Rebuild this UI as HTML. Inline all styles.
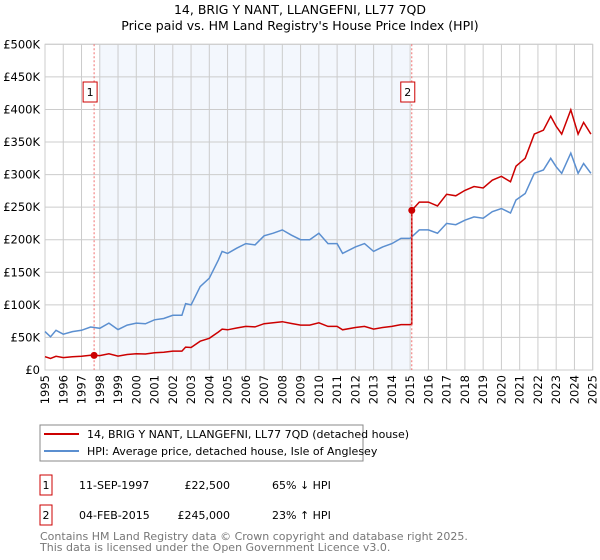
<!DOCTYPE html>
<html><head><meta charset="utf-8">
<style>
body{margin:0;background:#fff;width:600px;height:560px;overflow:hidden;font-family:"DejaVu Sans","Liberation Sans",sans-serif;}
svg{position:absolute;left:0;top:0}
</style></head>
<body>
<svg id="chart" width="600" height="560" xmlns="http://www.w3.org/2000/svg">
<text x="300" y="14" text-anchor="middle" font-size="12.5">14, BRIG Y NANT, LLANGEFNI, LL77 7QD</text>
<text x="300" y="30" text-anchor="middle" font-size="12.5">Price paid vs. HM Land Registry's House Price Index (HPI)</text>
<g id="grid"></g><g id="marks"></g><g id="axes"></g>
<rect x="40" y="425" width="323" height="36" fill="#fff" stroke="#888"/>
<line x1="44" y1="434" x2="79" y2="434" stroke="#cc0000" stroke-width="2"/>
<text x="87" y="438" font-size="11">14, BRIG Y NANT, LLANGEFNI, LL77 7QD (detached house)</text>
<line x1="44" y1="451" x2="79" y2="451" stroke="#5b8fd0" stroke-width="2"/>
<text x="87" y="455" font-size="11">HPI: Average price, detached house, Isle of Anglesey</text>
<g font-size="11">
<rect x="40" y="475" width="12" height="20" fill="#fff" stroke="#cc0000"/>
<text x="46" y="489" text-anchor="middle">1</text>
<text x="79" y="489">11-SEP-1997</text>
<text x="230" y="489" text-anchor="end">£22,500</text>
<text x="272" y="489">65% ↓ HPI</text>
<rect x="40" y="505" width="12" height="20" fill="#fff" stroke="#cc0000"/>
<text x="46" y="519" text-anchor="middle">2</text>
<text x="79" y="519">04-FEB-2015</text>
<text x="230" y="519" text-anchor="end">£245,000</text>
<text x="272" y="519">23% ↑ HPI</text>
</g>
<text x="40" y="540" font-size="11" fill="#777">Contains HM Land Registry data © Crown copyright and database right 2025.</text>
<text x="40" y="551" font-size="11" fill="#777">This data is licensed under the Open Government Licence v3.0.</text>
</svg>
<script>
const hpiYears=[1995,1995.3,1995.6,1996,1996.5,1997,1997.5,1998,1998.5,1999,1999.5,2000,2000.5,2001,2001.5,2002,2002.5,2002.7,2003,2003.5,2004,2004.5,2004.7,2005,2005.5,2006,2006.5,2007,2007.5,2008,2008.5,2009,2009.5,2010,2010.5,2011,2011.3,2012,2012.5,2013,2013.5,2014,2014.5,2015,2015.5,2016,2016.5,2017,2017.5,2018,2018.5,2019,2019.5,2020,2020.5,2020.8,2021.3,2021.8,2022.3,2022.7,2023,2023.3,2023.8,2024.2,2024.5,2024.9];
const hpiValues=[59,51,61,55,59,61,66,64,72,62,69,72,71,77,79,84,84,102,100,128,141,169,182,179,187,194,192,206,210,215,207,200,200,210,194,194,179,189,194,182,189,194,202,202,215,215,210,225,223,230,235,233,243,248,241,261,271,302,307,325,312,302,333,302,317,302];
const saleYears=[1997.69,2015.09];
const salePrices=[22.5,245];
const saleLabels=["1","2"];
const yTicks=[0,50,100,150,200,250,300,350,400,450,500];
const yTickLabels=["£0","£50K","£100K","£150K","£200K","£250K","£300K","£350K","£400K","£450K","£500K"];
const xTicks=[];for(let y=1995;y<=2025;y++)xTicks.push(y);

const X0=45,X1=592.7,Y0=370,Y1=44.3;
const sx=y=>X0+(y-1995)*(X1-X0)/30;
const sy=v=>Y0-v*(Y0-Y1)/500;
const NS="http://www.w3.org/2000/svg";
function mk(tag,attrs,parent){const e=document.createElementNS(NS,tag);for(const k in attrs)e.setAttribute(k,attrs[k]);parent.appendChild(e);return e;}
const grid=document.getElementById('grid'),marks=document.getElementById('marks'),axes=document.getElementById('axes');
function hpiAt(t){for(let i=0;i<hpiYears.length-1;i++){if(t<=hpiYears[i+1]){const f=(t-hpiYears[i])/(hpiYears[i+1]-hpiYears[i]);return hpiValues[i]+f*(hpiValues[i+1]-hpiValues[i]);}}return hpiValues[hpiValues.length-1];}

const shade=mk('rect',{x:sx(saleYears[0])+5,y:Y1,width:sx(saleYears[1])-sx(saleYears[0])-7,height:Y0-Y1,fill:'#eef3fc',opacity:0.7},grid);


yTicks.forEach((v,i)=>{
  const l=mk('line',{x1:X0,x2:X1,y1:sy(v),y2:sy(v),stroke:'#ccc'},grid);
  
  
  const t=mk('text',{x:40,y:sy(v)+4,'text-anchor':'end','font-size':11.5},axes);
  t.textContent=yTickLabels[i];
  
  
});
xTicks.forEach(yr=>{
  const l=mk('line',{x1:sx(yr),x2:sx(yr),y1:Y1,y2:Y0,stroke:'#ccc'},grid);
  
  
  const t=mk('text',{x:0,y:0,'text-anchor':'end','font-size':11.5,transform:`translate(${sx(yr)+4},375) rotate(-90)`},axes);
  t.textContent=yr;
  
  
});
const frame=mk('rect',{x:X0,y:Y1,width:X1-X0,height:Y0-Y1,fill:'none',stroke:'#ccc'},grid);



const hp=hpiYears.map((y,i)=>sx(y).toFixed(1)+','+sy(hpiValues[i]).toFixed(1)).join(' ');
const hl=mk('polyline',{points:hp,fill:'none',stroke:'#5b8fd0','stroke-width':1.5},marks);



const pts=[];
const r0=salePrices[0]/hpiAt(saleYears[0]);
const r1=salePrices[1]/hpiAt(saleYears[1]);
hpiYears.forEach((y,i)=>{ if(y<saleYears[1]) pts.push([y,hpiValues[i]*r0]); });
pts.push([saleYears[1],hpiAt(saleYears[1])*r0]);
pts.push([saleYears[1],salePrices[1]]);
hpiYears.forEach((y,i)=>{ if(y>saleYears[1]) pts.push([y,hpiValues[i]*r1]); });
const pl=mk('polyline',{points:pts.map(p=>sx(p[0]).toFixed(1)+','+sy(p[1]).toFixed(1)).join(' '),fill:'none',stroke:'#cc0000','stroke-width':1.5},marks);



saleYears.forEach((y,i)=>{
  const vl=mk('line',{x1:sx(y),x2:sx(y),y1:Y1,y2:Y0,stroke:'#f07070','stroke-dasharray':'2,2'},marks);
  
  
  const d=mk('circle',{cx:sx(y),cy:sy(salePrices[i]),r:3.5,fill:'#cc0000'},marks);
  
  
  const b=mk('rect',{x:sx(y)-11,y:82,width:14,height:20,fill:'#fff',stroke:'#cc0000'},marks);
  
  
  const t=mk('text',{x:sx(y)-4,y:96,'text-anchor':'middle','font-size':11},marks);
  t.textContent=saleLabels[i];
  
  
});
</script>
</body></html>
